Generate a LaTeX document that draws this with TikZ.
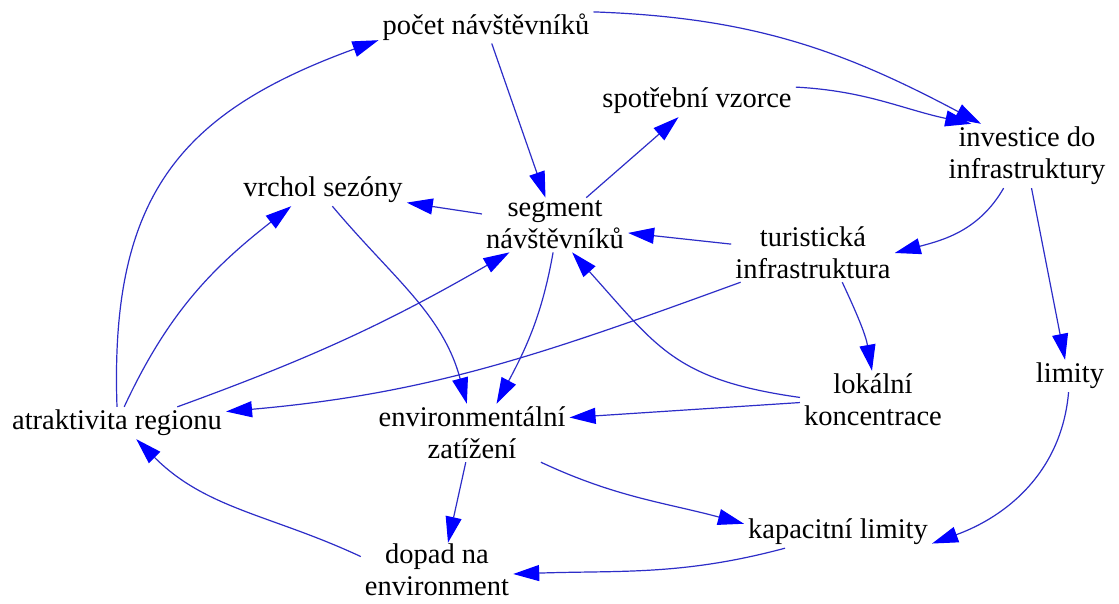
\documentclass[tikz,border=0pt]{standalone}
\usepackage{fontspec}
\setmainfont{Liberation Serif}
\usetikzlibrary{arrows.meta}
\definecolor{edgeblue}{RGB}{45,45,200}
\definecolor{tipblue}{RGB}{0,0,255}
\begin{document}
\begin{tikzpicture}[x=1pt,y=1pt,
  lbl/.style={font=\fontsize{28.5}{32}\selectfont, align=center, inner xsep=4pt, inner ysep=3pt},
  link/.style={draw=edgeblue, line width=1.2pt,
    -{Triangle[length=26pt,width=16pt,color=tipblue]}}]
\fill[white] (0,0) rectangle (1119,603);
\useasboundingbox (0,0) rectangle (1119,603);

% factors
\node[lbl] (pocet)   at (486,576) {počet návštěvníků};
\node[lbl] (spotreb) at (697,502) {spotřební vzorce};
\node[lbl] (invest)  at (1027,447) {investice do\\infrastruktury};
\node[lbl] (vrchol)  at (323,413) {vrchol sezóny};
\node[lbl] (segment) at (555,378) {segment\\návštěvníků};
\node[lbl] (turist)  at (813,350) {turistická\\infrastruktura};
\node[lbl] (lokalni) at (873,203) {lokální\\koncentrace};
\node[lbl] (limity)  at (1070,227) {limity};
\node[lbl] (atrakt)  at (117,180) {atraktivita regionu};
\node[lbl] (environ) at (472,170) {environmentální\\zatížení};
\node[lbl,inner ysep=1pt] (dopad) at (437,33) {dopad na\\environment};
\node[lbl] (kapac)   at (838,71) {kapacitní limity};

% influences
\draw[link] (pocet) -- (segment);
\draw[link] (pocet.8) to[out=-2,in=152] (invest.145);
\draw[link] (spotreb.8) to[out=-3,in=168] (invest.150);
\draw[link] (segment) -- (spotreb);
\draw[link] (segment) -- (vrchol);
\draw[link] (turist) -- (segment);
\draw[link] (invest.234) to[out=240,in=15] (turist.0);
\draw[link] (invest.-82) -- (limity.107);
\draw[link] (turist.-45) to[out=-65,in=100] (lokalni.92);
\draw[link] (turist.202) to[out=200,in=5] (atrakt.6);
\draw[link] (segment.-94) to[out=260,in=62] (environ.50);
\draw[link] (vrchol.-60) to[out=-50,in=105] (environ.100);
\draw[link] (atrakt.66) to[out=65,in=218] (vrchol.207);
\draw[link] (atrakt.90) to[out=92,in=200,looseness=1.2] (pocet.187);
\draw[link] (atrakt.15) to[out=20,in=210] (segment.211);
\draw[link] (lokalni.178) to[out=172,in=-48,looseness=1.2] (segment.-58);
\draw[link] (lokalni.182) -- (environ.9);
\draw[link] (environ.258) -- (dopad.68);
\draw[link] (environ.-23) to[out=-25,in=165] (kapac.175);
\draw[link] (limity.265) to[out=-95,in=20] (kapac.-7);
\draw[link] (kapac.197) to[out=195,in=2] (dopad.-3);
\draw[link] (dopad.170) to[out=155,in=-45] (atrakt.-40);
\end{tikzpicture}
\end{document}
